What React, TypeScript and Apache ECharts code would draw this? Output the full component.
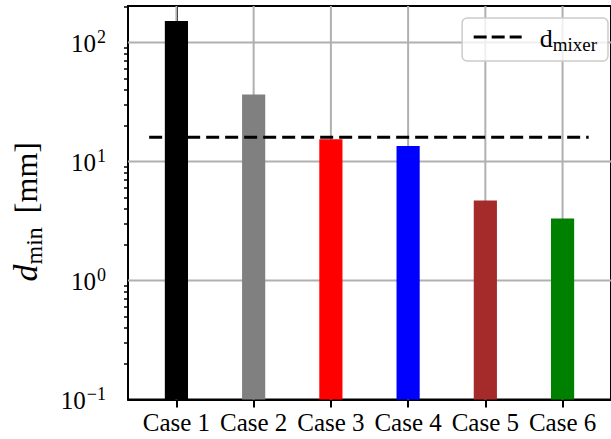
import React, { useEffect, useRef } from "react";
import * as echarts from "echarts";

const categories = ["Case 1", "Case 2", "Case 3", "Case 4", "Case 5", "Case 6"];
const dMin = [152, 36.6, 15.4, 13.5, 4.7, 3.32];
const barColors = ["#000000", "#808080", "#ff0000", "#0000ff", "#a52a2a", "#008000"];
const dMixer = 16.0;
const dMixerSpan = [-0.353, 5.338];
const yMajorTicks = [0.1, 1, 10, 100];
const yMinorTicks = [
  0.2, 0.3, 0.4, 0.5, 0.6, 0.7, 0.8, 0.9,
  2, 3, 4, 5, 6, 7, 8, 9,
  20, 30, 40, 50, 60, 70, 80, 90,
  200,
];
const xTicks = [0, 1, 2, 3, 4, 5];

const FONT = "Liberation Serif";
const Y_MIN = 0.1;
const Y_MAX = 202.8;
const X_MIN = -0.627;
const X_MAX = 5.627;
const BAR_HALF = 0.15;

export default function App() {
  const ref = useRef<HTMLDivElement>(null);
  useEffect(() => {
    document.body.style.margin = "0";
    const chart = echarts.init(ref.current!, null, { renderer: "svg" });
    const option: any = {
      animation: false,
      backgroundColor: "#ffffff",
      grid: {
        left: 125,
        right: -10,
        top: 6,
        bottom: 39.5,
        show: true,
        borderColor: "#000",
        borderWidth: 2,
        backgroundColor: "transparent",
        z: 0,
      },
      legend: {
        show: true,
        data: [{ name: "dmixer" }],
        right: 3,
        top: 18,
        orient: "horizontal",
        itemWidth: 48,
        itemHeight: 14,
        padding: [7, 11, 7, 10],
        borderColor: "#cccccc",
        borderWidth: 1.5,
        borderRadius: 5,
        backgroundColor: "rgba(255,255,255,0.8)",
        itemStyle: { opacity: 0 },
        lineStyle: { color: "#000", width: 3.2, type: [13, 5], opacity: 1 },
        formatter: () => "{d|d}{s|mixer}",
        textStyle: {
          fontFamily: FONT,
          color: "#000",
          padding: [0, 0, 0, 13],
          rich: {
            d: { fontFamily: FONT, fontSize: 26, lineHeight: 28, verticalAlign: "bottom", color: "#000" },
            s: { fontFamily: FONT, fontSize: 19, lineHeight: 19, verticalAlign: "bottom", padding: [0, 0, -3, 0], color: "#000" },
          },
        },
      },
      xAxis: {
        type: "value",
        min: X_MIN,
        max: X_MAX,
        z: 0,
        axisLine: { show: true, lineStyle: { color: "#000", width: 2 } },
        axisTick: { show: true, customValues: xTicks, length: 8, lineStyle: { color: "#000", width: 2 } },
        axisLabel: {
          show: true,
          customValues: xTicks,
          margin: 10,
          formatter: (v: number) => categories[Math.round(v)] ?? "",
          fontFamily: FONT,
          fontSize: 25,
          color: "#000",
        },
        splitLine: { show: false },
      },
      yAxis: [
        {
          type: "log",
          logBase: 10,
          min: Y_MIN,
          max: Y_MAX,
          z: 0,
          name: "{d|d}{m|min}{n|[mm]}",
          nameLocation: "middle",
          nameGap: 86,
          nameRotate: 90,
          nameTextStyle: {
            fontFamily: FONT,
            fontSize: 32,
            color: "#000",
            padding: [0, 18, 0, 0],
            rich: {
              d: { fontFamily: FONT, fontStyle: "italic", fontSize: 34, lineHeight: 36, verticalAlign: "bottom", color: "#000" },
              m: { fontFamily: FONT, fontSize: 24, lineHeight: 24, verticalAlign: "bottom", padding: [0, 0, -4, 0], color: "#000" },
              n: { fontFamily: FONT, fontSize: 32, lineHeight: 36, verticalAlign: "bottom", padding: [0, 0, 0, 14], color: "#000" },
            },
          },
          axisLine: { show: true, lineStyle: { color: "#000", width: 2 } },
          axisTick: { show: true, customValues: yMajorTicks, length: 7, lineStyle: { color: "#000", width: 2 } },
          axisLabel: {
            show: true,
            customValues: yMajorTicks,
            margin: 22,
            formatter: (v: number) => {
              const e = Math.round(Math.log10(v));
              return "{b|10}{s|" + (e < 0 ? "\u2212" + -e : String(e)) + "}";
            },
            rich: {
              b: { fontFamily: FONT, fontSize: 25, lineHeight: 26, verticalAlign: "bottom", color: "#000" },
              s: { fontFamily: FONT, fontSize: 18, lineHeight: 18, verticalAlign: "bottom", padding: [0, 0, 10, 1], color: "#000" },
            },
          },
          splitLine: { show: false },
        },
        {
          type: "log",
          logBase: 10,
          min: Y_MIN,
          max: Y_MAX,
          position: "left",
          z: 0,
          axisLine: { show: false },
          axisTick: { show: true, customValues: yMinorTicks, length: 4, lineStyle: { color: "#000", width: 1.5 } },
          axisLabel: { show: false },
          splitLine: { show: false },
        },
      ],
      series: [
        {
          type: "custom",
          name: "gridV",
          xAxisIndex: 0,
          yAxisIndex: 0,
          z: 1,
          silent: true,
          data: xTicks.map((t) => [t, Y_MIN]),
          encode: { x: 0, y: 1 },
          renderItem: (params: any, api: any) => {
            const t = api.value(0);
            const a = api.coord([t, Y_MIN]);
            const b = api.coord([t, Y_MAX]);
            return {
              type: "line",
              shape: { x1: a[0], y1: a[1], x2: b[0], y2: b[1] },
              style: { stroke: "#b0b0b0", lineWidth: 2 },
            };
          },
        },
        {
          type: "custom",
          name: "gridH",
          xAxisIndex: 0,
          yAxisIndex: 0,
          z: 1,
          silent: true,
          data: yMajorTicks.slice(1).map((t) => [X_MIN, t]),
          encode: { x: 0, y: 1 },
          renderItem: (params: any, api: any) => {
            const t = api.value(1);
            const a = api.coord([X_MIN, t]);
            const b = api.coord([X_MAX, t]);
            return {
              type: "line",
              shape: { x1: a[0], y1: a[1], x2: b[0], y2: b[1] },
              style: { stroke: "#b0b0b0", lineWidth: 2 },
            };
          },
        },
        {
          type: "custom",
          name: "bars",
          xAxisIndex: 0,
          yAxisIndex: 0,
          z: 10,
          data: dMin.map((v, i) => [i, v]),
          encode: { x: 0, y: 1 },
          renderItem: (params: any, api: any) => {
            const x = api.value(0);
            const v = api.value(1);
            const p1 = api.coord([x - BAR_HALF, v]);
            const p2 = api.coord([x + BAR_HALF, Y_MIN]);
            return {
              type: "rect",
              shape: { x: p1[0], y: p1[1], width: p2[0] - p1[0], height: p2[1] - p1[1] },
              style: { fill: barColors[params.dataIndex % barColors.length], stroke: "none" },
            };
          },
        },
        {
          type: "line",
          name: "dmixer",
          xAxisIndex: 0,
          yAxisIndex: 0,
          z: 12,
          symbol: "none",
          showSymbol: false,
          data: [
            [dMixerSpan[0], dMixer],
            [dMixerSpan[1], dMixer],
          ],
          lineStyle: { color: "#000", width: 3.2, type: [13, 6] },
          itemStyle: { color: "#000" },
        },
      ],
    };
    chart.setOption(option);
    return () => chart.dispose();
  }, []);
  return (
    <div
      ref={ref}
      style={{ position: "absolute", left: 0, top: 0, width: 611, height: 439 }}
    />
  );
}
